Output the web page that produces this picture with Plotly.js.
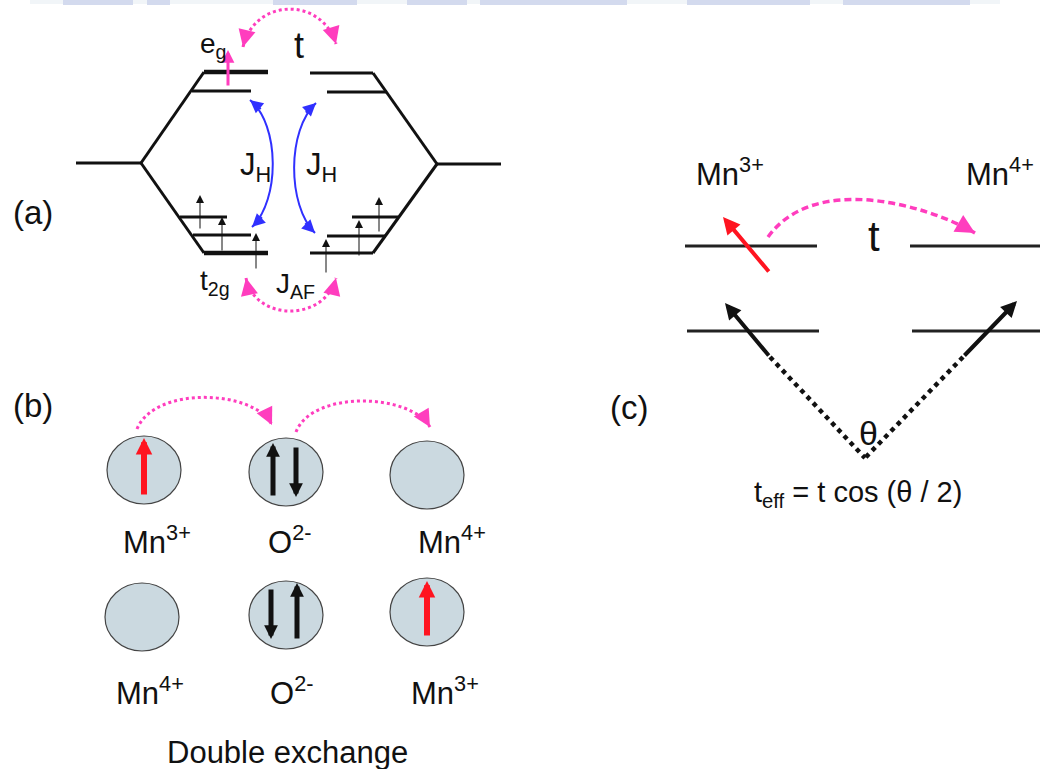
<!DOCTYPE html>
<html><head><meta charset="utf-8">
<script src="https://cdn.plot.ly/plotly-3.0.1.min.js"></script>
<style>html,body{margin:0;padding:0;background:#fff}#chart{width:1040px;height:769px}</style>
</head><body><div id="chart"></div>
<script>
// ---------- values (canvas units = pixels, y grows downward) ----------
// Panel (a): energy-level segments [x0,y0,x1,y1]
const levelsThick = [[204,72,268,72],[204,253,268,253]];
const levelsA = [[76,163,141,163],[192,91,251,91],[180,217,227,217],[193,235,251,235],
  [310,73,373,73],[327,92,387,92],[352,217,398,217],[327,236,386,236],[310,253,373,253],[437,164,501,164]];
const splitting = [[141,163,204,72],[141,163,204,253],[437,164,373,73],[437,164,373,253]];
// t2g spins and eg spin [x, yTail, yTip]
const t2gSpins = [[200,230,195],[222,252,217],[256,270,233],[326,274,239],[359,257,220],[379,233,197]];
const egSpin = [228,87,50];
// curved arrows, cubic Bezier [x0,y0,c1x,c1y,c2x,c2y,x1,y1]
const hopArcsA = [[243,47,255,-3,322,-3,336,44],[246,278,255,322,325,322,336,278]];   // heads both ends
const hundArcs = [[252,227,280,200,280,125,250,100],[315,233,287,205,287,130,316,103]]; // heads both ends
const hopArcsB = [[137,429,155,385,255,390,272,425],[296,432,312,390,410,393,430,427]]; // head at end
const hopArcC  = [768,237,814,173,925,204,975,233];                                    // head at end
// Panel (b): ions [cx, cy, rx, ry]
const ions = [[144,470,37,34],[286,472,37,34],[427,475,37,34],[142,617,37,34],[286,615,37,34],[427,612,37,34]];
const redSpinsB = [[144,496,438],[427,637,581]];
const oxygenSpins = [[273,497,443],[296,446,497],[271,588,639],[297,640,583]];
// Panel (c)
const levelsC = [[685,246,817,246],[910,246,1040,246],[687,331,819,331],[912,331,1040,331]];
const redSpinC = [770,273,723,217];
const coreSpinsC = [[770,357,725,303],[963,357,1017,301]];
const cantLines = [[770,357,865,458],[963,357,865,458]];
// watermark strip at the very top [x0,x1]
const stripBlocks = [[63,133],[147,170],[273,357],[407,467],[480,627],[687,810],[843,970]];
// Labels
const labelText = ['(a)','e<sub>g</sub>','t','J<sub>H</sub>','J<sub>H</sub>','t<sub>2g</sub>','J<sub>AF</sub>',
  '(b)','Mn<sup>3+</sup>','O<sup>2-</sup>','Mn<sup>4+</sup>','Mn<sup>4+</sup>','O<sup>2-</sup>','Mn<sup>3+</sup>','Double exchange',
  '(c)','Mn<sup>3+</sup>','Mn<sup>4+</sup>','t','θ','t<sub>eff</sub> = t cos (θ / 2)'];
const labelX = [11,198,292,238,304,198,274, 11,121,266,416,114,268,409,165, 608,694,964,866,857,752];
const labelY = [212,45,45,167,167,282,285, 405,540,540,540,691,691,691,752, 407,172,172,236,433,494];
const labelSize = [33,28,36,31,31,28,28, 33,31,31,31,31,31,31,31, 33,31,31,42,34,29];

// ---------- styles ----------
const INK = '#111111';
const PINK = '#ff3dbe';
const BLUE = '#3030ff';
const RED = '#ff1420';

function segTrace(segs, width, color, dash) {
  const x = [], y = [];
  segs.forEach(s => { x.push(s[0], s[2], null); y.push(s[1], s[3], null); });
  return {type:'scatter', mode:'lines', x, y, hoverinfo:'skip',
    line:{color, width, dash: dash || 'solid'}};
}

const data = [
  segTrace(levelsA, 3, INK),
  segTrace(levelsThick, 4.5, INK),
  segTrace(splitting, 3, INK),
  segTrace(levelsC, 3, '#222'),
  segTrace(cantLines, 4.5, INK, 'dot')
];

const shapes = [];
const annotations = [];

// watermark strip
shapes.push({type:'rect', xref:'x', yref:'y', x0:30, x1:1000, y0:0, y1:4, fillcolor:'#f1f5f8', line:{width:0}, layer:'below'});
stripBlocks.forEach(b => shapes.push({type:'rect', xref:'x', yref:'y', x0:b[0], x1:b[1], y0:0, y1:5,
  fillcolor:'#d3daee', line:{width:0}, layer:'below'}));

// ions
ions.forEach(c => shapes.push({type:'circle', xref:'x', yref:'y', x0:c[0]-c[2], x1:c[0]+c[2], y0:c[1]-c[3], y1:c[1]+c[3],
  fillcolor:'#cbd9e0', line:{color:'#444', width:1.2}, layer:'below'}));

function arcPath(a) { return `M${a[0]},${a[1]} C${a[2]},${a[3]} ${a[4]},${a[5]} ${a[6]},${a[7]}`; }
function arrow(tipX, tipY, tailX, tailY, color, width, size) {
  annotations.push({x:tipX, y:tipY, ax:tailX, ay:tailY, xref:'x', yref:'y', axref:'x', ayref:'y',
    text:'', showarrow:true, arrowhead:2, arrowsize:size, arrowwidth:width, arrowcolor:color, standoff:0});
}
function headAt(tx, ty, cx, cy, color, width, size, len) {
  const dx = cx - tx, dy = cy - ty, L = Math.hypot(dx, dy);
  arrow(tx, ty, tx + dx / L * len, ty + dy / L * len, color, width, size);
}
function curvedArrow(a, color, width, dash, both, size) {
  shapes.push({type:'path', xref:'x', yref:'y', path:arcPath(a), line:{color, width, dash}});
  headAt(a[6], a[7], a[4], a[5], color, width, size, 16);
  if (both) headAt(a[0], a[1], a[2], a[3], color, width, size, 16);
}
hopArcsA.forEach(a => curvedArrow(a, PINK, 3, 'dot', true, 1.15));
hundArcs.forEach(a => curvedArrow(a, BLUE, 2, 'solid', true, 1.3));
hopArcsB.forEach(a => curvedArrow(a, PINK, 3, 'dot', false, 1.15));
curvedArrow(hopArcC, PINK, 3.5, '7px,4px', false, 1.1);

// straight spins
t2gSpins.forEach(s => arrow(s[0], s[2], s[0], s[1], INK, 1, 1.6));
arrow(egSpin[0], egSpin[2], egSpin[0], egSpin[1], PINK, 3, 0.85);
redSpinsB.forEach(s => arrow(s[0], s[2], s[0], s[1], RED, 6, 0.55));
oxygenSpins.forEach(s => arrow(s[0], s[2], s[0], s[1], INK, 5, 0.55));
arrow(redSpinC[2], redSpinC[3], redSpinC[0], redSpinC[1], RED, 4, 0.85);
coreSpinsC.forEach(s => arrow(s[2], s[3], s[0], s[1], INK, 4, 0.8));

// labels
labelText.forEach((t, i) => annotations.push({x:labelX[i], y:labelY[i], xref:'x', yref:'y', text:t,
  showarrow:false, xanchor:'left', yanchor:'middle', font:{size:labelSize[i], color:INK}}));

const layout = {
  width:1040, height:769, margin:{l:0, r:0, t:0, b:0},
  paper_bgcolor:'#ffffff', plot_bgcolor:'#ffffff', showlegend:false,
  font:{family:'"Liberation Sans", Arial, Helvetica, sans-serif', color:INK},
  xaxis:{range:[0,1040], visible:false, fixedrange:true},
  yaxis:{range:[769,0], visible:false, fixedrange:true},
  shapes, annotations
};
Plotly.newPlot('chart', data, layout, {staticPlot:true, displayModeBar:false});
</script></body></html>
